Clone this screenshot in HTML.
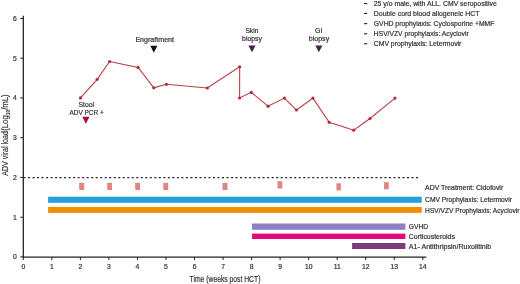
<!DOCTYPE html>
<html><head><meta charset="utf-8">
<style>
html,body{margin:0;padding:0;background:#fff;width:520px;height:284px;overflow:hidden}
svg{display:block;will-change:transform}
text{font-family:"Liberation Sans",sans-serif;fill:#333;stroke:#333;stroke-width:0.2}
</style></head>
<body>
<svg width="520" height="284" viewBox="0 0 520 284">
<!-- legend top right -->
<g fill="#222">
<rect x="364" y="3" width="3.2" height="1.1"/>
<rect x="364" y="12.9" width="3.2" height="1.1"/>
<rect x="364" y="23.1" width="3.2" height="1.1"/>
<rect x="364" y="33.2" width="3.2" height="1.1"/>
<rect x="364" y="43.2" width="3.2" height="1.1"/>
</g>
<g font-size="6.7">
<text x="373.8" y="5.8" textLength="123" lengthAdjust="spacingAndGlyphs">25 y/o male, with ALL. CMV seropositive</text>
<text x="373.8" y="15.9" textLength="105.6" lengthAdjust="spacingAndGlyphs">Double cord blood allogeneic HCT</text>
<text x="373.8" y="26.1" textLength="120.6" lengthAdjust="spacingAndGlyphs">GVHD prophylaxis: Cyclosporine +MMF</text>
<text x="373.8" y="36.2" textLength="94.9" lengthAdjust="spacingAndGlyphs">HSV/VZV prophylaxis: Acyclovir</text>
<text x="373.8" y="46.3" textLength="87.6" lengthAdjust="spacingAndGlyphs">CMV prophylaxis: Letermovir</text>
</g>

<!-- axes -->
<g stroke="#222" stroke-width="1.3" fill="none">
<line x1="23.3" y1="15.8" x2="23.3" y2="257.6"/>
<line x1="22.7" y1="257.1" x2="426.3" y2="257.1"/>
</g>
<g stroke="#222" stroke-width="1">
<line x1="20.3" y1="18.5" x2="23.3" y2="18.5"/>
<line x1="20.3" y1="58.2" x2="23.3" y2="58.2"/>
<line x1="20.3" y1="97.9" x2="23.3" y2="97.9"/>
<line x1="20.3" y1="137.7" x2="23.3" y2="137.7"/>
<line x1="20.3" y1="177.4" x2="23.3" y2="177.4"/>
<line x1="20.3" y1="217.2" x2="23.3" y2="217.2"/>
<line x1="20.3" y1="256.9" x2="23.3" y2="256.9"/>
</g>
<g stroke="#222" stroke-width="1">
<line x1="23.30" y1="257" x2="23.30" y2="260"/>
<line x1="51.84" y1="257" x2="51.84" y2="260"/>
<line x1="80.37" y1="257" x2="80.37" y2="260"/>
<line x1="108.91" y1="257" x2="108.91" y2="260"/>
<line x1="137.44" y1="257" x2="137.44" y2="260"/>
<line x1="165.98" y1="257" x2="165.98" y2="260"/>
<line x1="194.52" y1="257" x2="194.52" y2="260"/>
<line x1="223.05" y1="257" x2="223.05" y2="260"/>
<line x1="251.59" y1="257" x2="251.59" y2="260"/>
<line x1="280.12" y1="257" x2="280.12" y2="260"/>
<line x1="308.66" y1="257" x2="308.66" y2="260"/>
<line x1="337.20" y1="257" x2="337.20" y2="260"/>
<line x1="365.73" y1="257" x2="365.73" y2="260"/>
<line x1="394.27" y1="257" x2="394.27" y2="260"/>
<line x1="422.80" y1="257" x2="422.80" y2="260"/>
</g>
<!-- y tick labels -->
<g font-size="6.8" text-anchor="middle">
<text x="14.8" y="21">6</text>
<text x="14.8" y="60.7">5</text>
<text x="14.8" y="100.4">4</text>
<text x="14.8" y="140.2">3</text>
<text x="14.8" y="179.9">2</text>
<text x="14.8" y="219.7">1</text>
<text x="14.8" y="259.4">0</text>
</g>
<!-- x tick labels -->
<g font-size="6.8" text-anchor="middle">
<text x="23.30" y="269">0</text>
<text x="51.84" y="269">1</text>
<text x="80.37" y="269">2</text>
<text x="108.91" y="269">3</text>
<text x="137.44" y="269">4</text>
<text x="165.98" y="269">5</text>
<text x="194.52" y="269">6</text>
<text x="223.05" y="269">7</text>
<text x="251.59" y="269">8</text>
<text x="280.12" y="269">9</text>
<text x="308.66" y="269">10</text>
<text x="337.20" y="269">11</text>
<text x="365.73" y="269">12</text>
<text x="394.27" y="269">13</text>
<text x="422.80" y="269">14</text>
</g>
<text x="189.6" y="281.8" font-size="9.1" textLength="70.8" lengthAdjust="spacingAndGlyphs">Time (weeks post HCT)</text>
<text transform="translate(7.9,175.8) rotate(-90)" font-size="8.9" textLength="44.6" lengthAdjust="spacingAndGlyphs">ADV viral load</text>
<text transform="translate(7.9,130.8) rotate(-90)" font-size="8.9" textLength="36.5" lengthAdjust="spacingAndGlyphs">(Log<tspan font-size="5.6" dy="1.6">10</tspan><tspan dy="-1.6">/mL)</tspan></text>

<!-- dashed threshold -->
<line x1="23.48" y1="177.6" x2="419" y2="177.6" stroke="#222" stroke-width="1.3" stroke-dasharray="2 2.512"/>

<!-- viral load line -->
<polyline fill="none" stroke="#b73a42" stroke-width="1.05" points="80.5,97.9 97.2,79.3 109.6,61.5 138.1,67.4 153.8,87.8 166.4,84.3 207.3,88.0 239.7,66.8 239.6,98.0 251.3,92.4 268.1,106.2 284.4,98.1 296.5,110 312.9,98.1 329.2,122.3 353.7,130.2 370,118.5 395,98.1"/>
<g fill="#b12c36">
<circle cx="80.5" cy="97.9" r="1.6"/>
<circle cx="97.2" cy="79.3" r="1.6"/>
<circle cx="109.6" cy="61.5" r="1.6"/>
<circle cx="138.1" cy="67.4" r="1.6"/>
<circle cx="153.8" cy="87.8" r="1.6"/>
<circle cx="166.4" cy="84.3" r="1.6"/>
<circle cx="207.3" cy="88.0" r="1.6"/>
<circle cx="239.7" cy="66.8" r="1.6"/>
<circle cx="239.6" cy="98.0" r="1.6"/>
<circle cx="251.3" cy="92.4" r="1.6"/>
<circle cx="268.1" cy="106.2" r="1.6"/>
<circle cx="284.4" cy="98.1" r="1.6"/>
<circle cx="296.5" cy="110" r="1.6"/>
<circle cx="312.9" cy="98.1" r="1.6"/>
<circle cx="329.2" cy="122.3" r="1.6"/>
<circle cx="353.7" cy="130.2" r="1.6"/>
<circle cx="370" cy="118.5" r="1.6"/>
<circle cx="395" cy="98.1" r="1.6"/>
</g>

<!-- annotations -->
<g font-size="6.7">
<text x="78.5" y="106.7" textLength="15.6" lengthAdjust="spacingAndGlyphs">Stool</text>
<text x="69.5" y="115.1" textLength="34.2" lengthAdjust="spacingAndGlyphs">ADV PCR +</text>
<text x="135.4" y="41.8" textLength="38.6" lengthAdjust="spacingAndGlyphs">Engraftment</text>
<text x="245.4" y="33.2" textLength="13" lengthAdjust="spacingAndGlyphs">Skin</text>
<text x="242.1" y="41.1" textLength="19.9" lengthAdjust="spacingAndGlyphs">biopsy</text>
<text x="315.1" y="33.2" textLength="7.3" lengthAdjust="spacingAndGlyphs">GI</text>
<text x="308.7" y="41.1" textLength="20.5" lengthAdjust="spacingAndGlyphs">biopsy</text>
</g>
<polygon points="82.2,116.8 89.5,116.8 85.85,123.7" fill="#a8102a"/>
<polygon points="150.3,45.8 157.4,45.8 153.85,52.7" fill="#111"/>
<polygon points="248.4,45.5 255.6,45.5 252,52.2" fill="#4a1c56"/>
<polygon points="315.3,45.5 322.4,45.5 318.85,52.2" fill="#4a1c56"/>

<!-- treatment rects -->
<g fill="#e08680">
<rect x="79.2" y="182.8" width="5" height="7.2"/>
<rect x="107.2" y="182.8" width="4.8" height="7.2"/>
<rect x="135.2" y="182.8" width="4.8" height="7.2"/>
<rect x="163.3" y="182.8" width="4.9" height="7.2"/>
<rect x="222.5" y="182.9" width="5" height="7.2"/>
<rect x="277.5" y="181.2" width="4.8" height="7.3"/>
<rect x="336.4" y="183.3" width="4.5" height="7.1"/>
<rect x="384" y="182.2" width="4.7" height="7.1"/>
</g>
<!-- bars -->
<rect x="48.1" y="196.7" width="373.6" height="6.1" fill="#27a0da"/>
<rect x="48.1" y="206.9" width="373.6" height="6" fill="#f28e00"/>
<rect x="252" y="223.5" width="153.4" height="6.3" fill="#8a82c2"/>
<rect x="252" y="233.6" width="153.4" height="5.4" fill="#e4097a"/>
<rect x="352.1" y="243" width="53.3" height="6" fill="#7a3c7a"/>

<g font-size="6.6">
<text x="425.1" y="189.5" textLength="78.1" lengthAdjust="spacingAndGlyphs">ADV Treatment: Cidofovir</text>
<text x="425.1" y="201.5" textLength="86.8" lengthAdjust="spacingAndGlyphs">CMV Prophylaxis: Letermovir</text>
<text x="425.1" y="212.9" textLength="94.3" lengthAdjust="spacingAndGlyphs">HSV/VZV Prophylaxis: Acyclovir</text>
<text x="408.8" y="229" textLength="19.4" lengthAdjust="spacingAndGlyphs">GVHD</text>
<text x="408.8" y="238.8" textLength="46.1" lengthAdjust="spacingAndGlyphs">Corticosteroids</text>
<text x="408.8" y="248.5" textLength="82.4" lengthAdjust="spacingAndGlyphs">A1- Antithripsin/Ruxolitinib</text>
</g>
</svg>
</body></html>
